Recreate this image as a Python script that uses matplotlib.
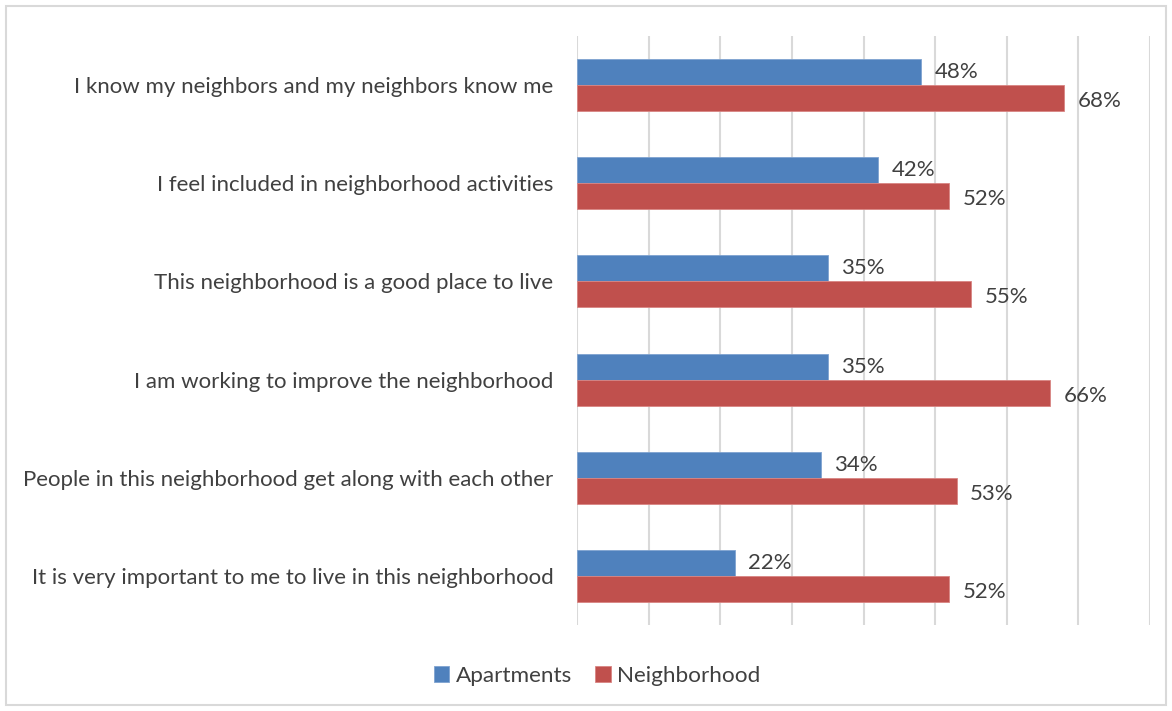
import matplotlib.pyplot as plt
import numpy as np
from matplotlib.patches import Rectangle

plt.rcParams['font.family'] = ['Lato', 'DejaVu Sans']

# data (top to bottom)
statements = [
    'I know my neighbors and my neighbors know me',
    'I feel included in neighborhood activities',
    'This neighborhood is a good place to live',
    'I am working to improve the neighborhood',
    'People in this neighborhood get along with each other',
    'It is very important to me to live in this neighborhood',
]
apartments = [48, 42, 35, 35, 34, 22]
neighborhood = [68, 52, 55, 66, 53, 52]

blue = '#4F81BD'
red = '#C0504D'
text_col = '#404040'
grid_col = '#D9D9D9'

fig = plt.figure(figsize=(11.72, 7.11), dpi=100)
ax = fig.add_axes([577 / 1172, 1 - 625 / 711, (1150 - 577) / 1172, (625 - 36) / 711])

y = np.arange(len(statements))
h = 0.265
a = np.array(apartments) / 100
n = np.array(neighborhood) / 100

ax.barh(y - h / 2, a, height=h, color=blue, edgecolor='#7FA3D0', linewidth=0.6, label='Apartments')
ax.barh(y + h / 2, n, height=h, color=red, edgecolor='#D98583', linewidth=0.6, label='Neighborhood')

for yi, v in zip(y, a):
    ax.text(v + 0.019, yi - h / 2, f'{v * 100:.0f}%', va='center', ha='left',
            fontsize=16, color=text_col)
for yi, v in zip(y, n):
    ax.text(v + 0.019, yi + h / 2 + 0.03, f'{v * 100:.0f}%', va='center', ha='left',
            fontsize=16, color=text_col)

ax.set_xlim(0, 0.8)
ax.set_ylim(len(statements) - 0.5, -0.5)
ax.set_xticks(np.arange(0, 0.81, 0.1))
ax.set_xticklabels([])
ax.tick_params(axis='x', length=0)
ax.tick_params(axis='y', length=0, pad=17, labelsize=16, labelcolor=text_col)
ax.set_yticks(y)
ax.set_yticklabels(statements)
ax.grid(axis='x', color=grid_col, linewidth=1.5)
ax.set_axisbelow(True)
for s in ax.spines.values():
    s.set_visible(False)

leg = fig.legend(loc='center', bbox_to_anchor=(597 / 1172, 1 - 676 / 711), ncol=2,
                 frameon=False, fontsize=16.2, handlelength=0.7, handleheight=0.7,
                 handletextpad=0.3, columnspacing=1.0)
for t in leg.get_texts():
    t.set_color(text_col)

# outer frame
fig.patches.append(Rectangle((6 / 1172, 6 / 711), 1 - 12 / 1172, 1 - 12 / 711,
                             transform=fig.transFigure, fill=False,
                             edgecolor=grid_col, linewidth=1.5))

fig.savefig('out.png', dpi=100)
